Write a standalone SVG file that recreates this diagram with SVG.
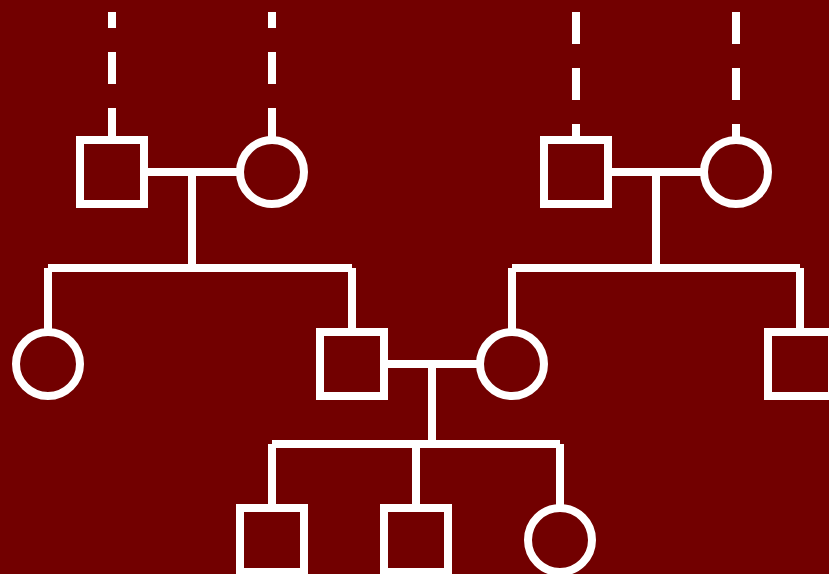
<svg xmlns="http://www.w3.org/2000/svg" width="829" height="574" viewBox="0 0 829 574">
<style>
.n{fill:none;stroke:#fff;stroke-width:8}
.c{fill:none;stroke:#fff;stroke-width:8;stroke-linecap:butt}
.d{stroke-dasharray:32 24}
</style>
<rect width="829" height="574" fill="#720000"/>
<g id="connectors">
<path class="c d" d="M112 140V12M272 140V12"/>
<path class="c d" d="M576 12V140M736 12V140"/>
<path class="c" d="M144 172H240M192 172V268M48 268H352M48 268V332M352 268V332"/>
<path class="c" d="M608 172H704M656 172V268M512 268H800M512 268V332M800 268V332"/>
<path class="c" d="M384 364H480M432 364V444M272 444H560M272 444V508M416 444V508M560 444V508"/>
</g>
<g id="gf1"><rect class="n" x="80" y="140" width="64" height="64"/></g>
<g id="gm1"><circle class="n" cx="272" cy="172" r="32"/></g>
<g id="gf2"><rect class="n" x="544" y="140" width="64" height="64"/></g>
<g id="gm2"><circle class="n" cx="736" cy="172" r="32"/></g>
<g id="aunt"><circle class="n" cx="48" cy="364" r="32"/></g>
<g id="father"><rect class="n" x="320" y="332" width="64" height="64"/></g>
<g id="mother"><circle class="n" cx="512" cy="364" r="32"/></g>
<g id="uncle"><rect class="n" x="768" y="332" width="64" height="64"/></g>
<g id="son1"><rect class="n" x="240" y="508" width="64" height="64"/></g>
<g id="son2"><rect class="n" x="384" y="508" width="64" height="64"/></g>
<g id="daughter"><circle class="n" cx="560" cy="540" r="32"/></g>
</svg>
